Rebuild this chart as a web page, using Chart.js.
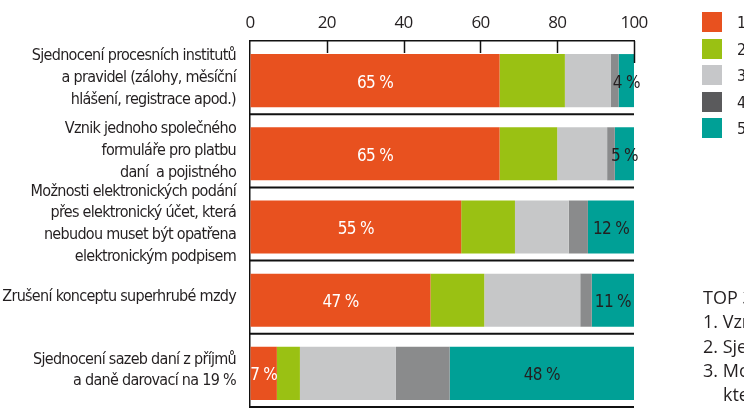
<!DOCTYPE html>
<html>
<head>
<meta charset="utf-8">
<script src="https://cdn.jsdelivr.net/npm/chart.js@4/dist/chart.umd.min.js"></script>
<style>
  html, body { margin: 0; padding: 0; background: #fff; overflow: hidden; }
  #wrap { position: relative; width: 744px; height: 410px; }
  #legend { position: absolute; left: 702px; top: 12px; font-family: "DejaVu Sans Condensed", sans-serif; font-size: 16px; color: #231f20; }
  #legend .item { position: relative; height: 26.5px; white-space: nowrap; }
  #legend .box { position: absolute; left: 0; top: 0; width: 20px; height: 20px; }
  #legend .txt { position: absolute; left: 35px; top: 1px; line-height: 20px; }
  #top { position: absolute; left: 703px; top: 285px; font-family: "Open Sans", sans-serif; font-size: 18px; line-height: 24.3px; color: #231f20; white-space: nowrap; }
  #top .indent { padding-left: 20px; }
</style>
</head>
<body>
<div id="wrap">
  <canvas id="chart" width="744" height="410"></canvas>
  <div id="legend"></div>
  <div id="top">
    <div>TOP 3</div>
    <div>1. Vznik jednoho společného formuláře</div>
    <div>2. Sjednocení procesních institutů</div>
    <div>3. Možnosti elektronických podání,</div>
    <div class="indent">která nebudou muset být opatřena</div>
  </div>
</div>
<script>
  // categories (multi-line labels)
  const categories = [
    ["Sjednocení procesních institutů", "a pravidel (zálohy, měsíční", "hlášení, registrace apod.)"],
    ["Vznik jednoho společného", "formuláře pro platbu", "daní  a pojistného"],
    ["Možnosti elektronických podání", "přes elektronický účet, která", "nebudou muset být opatřena", "elektronickým podpisem"],
    "Zrušení konceptu superhrubé mzdy",
    ["Sjednocení sazeb daní z příjmů", "a daně darovací na 19 %"]
  ];

  const seriesNames = ["1", "2", "3", "4", "5"];
  const s1 = [65, 65, 55, 47, 7];
  const s2 = [17, 15, 14, 14, 6];
  const s3 = [12, 13, 14, 25, 25];
  const s4 = [2, 2, 5, 3, 14];
  const s5 = [4, 5, 12, 11, 48];

  const xTicks = [0, 20, 40, 60, 80, 100];

  const barColors = ["#e8511f", "#9ac113", "#c6c7c8", "#8a8b8c", "#00a096"];
  const legendColors = ["#e8511f", "#9ac113", "#c6c7c9", "#5a5a5c", "#00a096"];

  const narrow = '"DejaVu Sans Condensed", sans-serif';
  const txt = "#231f20";

  // HTML legend
  const legendEl = document.getElementById("legend");
  seriesNames.forEach((name, i) => {
    const item = document.createElement("div");
    item.className = "item";
    item.innerHTML = `<span class="box" style="background:${legendColors[i]}"></span><span class="txt">${name}</span>`;
    legendEl.appendChild(item);
  });

  // tighter letters, closer to the condensed face of the original
  const tightText = {
    id: "tightText",
    beforeDraw(chart) { chart.ctx.letterSpacing = "-0.7px"; }
  };

  // shift bars slightly down inside their band, like the original
  const barShift = {
    id: "barShift",
    beforeDatasetsDraw(chart) { chart.ctx.save(); chart.ctx.translate(0, 3); },
    afterDatasetsDraw(chart) { chart.ctx.restore(); }
  };

  // separators between categories
  const separators = {
    id: "separators",
    afterDatasetsDraw(chart) {
      const ctx = chart.ctx;
      const y = chart.scales.y;
      const area = chart.chartArea;
      const n = categories.length;
      ctx.save();
      ctx.strokeStyle = "#111";
      ctx.lineWidth = 2;
      for (let i = 1; i <= n; i++) {
        const py = i < n
          ? (y.getPixelForValue(i - 1) + y.getPixelForValue(i)) / 2
          : y.getPixelForValue(n - 1) + (y.getPixelForValue(n - 1) - y.getPixelForValue(n - 2)) / 2;
        ctx.beginPath();
        ctx.moveTo(area.left, py);
        ctx.lineTo(area.right, py);
        ctx.stroke();
      }
      ctx.restore();
    }
  };

  // value labels inside first (white) and last (dark) segments
  const valueLabels = {
    id: "valueLabels",
    afterDatasetsDraw(chart) {
      const ctx = chart.ctx;
      ctx.save();
      ctx.font = "17px " + narrow;
      ctx.textAlign = "center";
      ctx.textBaseline = "middle";
      [[0, "#ffffff"], [4, txt]].forEach(([di, color]) => {
        const meta = chart.getDatasetMeta(di);
        const data = chart.data.datasets[di].data;
        meta.data.forEach((el, i) => {
          const cx = (el.x + el.base) / 2;
          ctx.fillStyle = color;
          ctx.fillText(data[i] + " %", cx, el.y + 5.5);
        });
      });
      ctx.restore();
    }
  };

  // tick marks pointing down into the plot from the top axis
  const innerTicks = {
    id: "innerTicks",
    afterDatasetsDraw(chart) {
      const ctx = chart.ctx;
      const x = chart.scales.x;
      const top = chart.chartArea.top;
      ctx.save();
      ctx.strokeStyle = "#111";
      ctx.lineWidth = 1.5;
      xTicks.forEach(v => {
        if (v === 0) return;
        const px = Math.round(x.getPixelForValue(v)) + 0.5;
        ctx.beginPath();
        ctx.moveTo(px, top);
        ctx.lineTo(px, top + (v === 100 ? 22 : 12));
        ctx.stroke();
      });
      ctx.restore();
    }
  };

  const datasets = [s1, s2, s3, s4, s5].map((d, i) => ({
    label: seriesNames[i],
    data: d,
    backgroundColor: barColors[i],
    borderWidth: 0,
    barPercentage: 0.725,
    categoryPercentage: 1
  }));

  new Chart(document.getElementById("chart"), {
    type: "bar",
    data: { labels: categories, datasets: datasets },
    plugins: [tightText, barShift, separators, valueLabels, innerTicks],
    options: {
      indexAxis: "y",
      responsive: false,
      animation: false,
      devicePixelRatio: 1,
      layout: { padding: { left: 0, right: 110, top: 0, bottom: 3 } },
      plugins: {
        legend: { display: false },
        tooltip: { enabled: false }
      },
      scales: {
        x: {
          position: "top",
          stacked: true,
          min: 0,
          max: 100,
          afterBuildTicks(scale) { scale.ticks = xTicks.map(v => ({ value: v })); },
          afterFit(scale) { scale.height = 41; },
          ticks: {
            padding: 8,
            color: txt,
            font: { family: '"Open Sans", sans-serif', size: 17 }
          },
          grid: { drawOnChartArea: false, drawTicks: false },
          border: { display: true, color: "#111", width: 1.5 }
        },
        y: {
          stacked: true,
          afterFit(scale) {
            scale.width = 250;
            scale.paddingTop = 0;
            scale.paddingBottom = 0;
          },
          ticks: {
            autoSkip: false,
            padding: 14,
            color: txt,
            font: { family: narrow, size: 16, lineHeight: 1.36 }
          },
          grid: { display: false, drawTicks: false },
          border: { display: true, color: "#111", width: 1.5 }
        }
      }
    }
  });
</script>
</body>
</html>
